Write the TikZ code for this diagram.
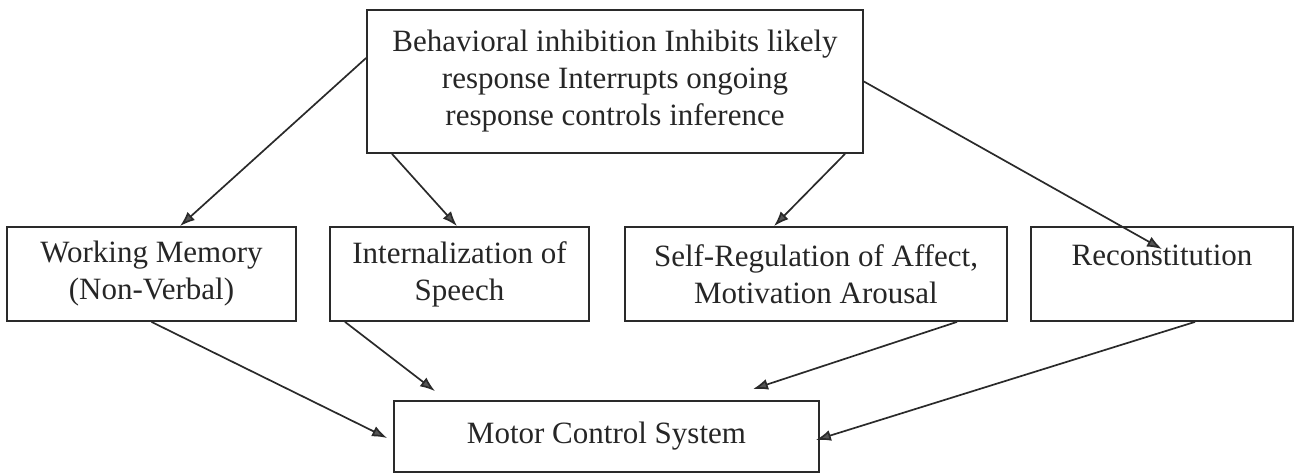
\documentclass[tikz,border=0pt]{standalone}
\usepackage{fontspec}
\setmainfont{Liberation Serif}
\usetikzlibrary{arrows.meta}
\definecolor{ink}{HTML}{2A2A2A}
\definecolor{tipgray}{HTML}{555555}
\begin{document}
\begin{tikzpicture}[x=1pt,y=1pt,
  box/.style={draw=ink, line width=1.8pt, inner sep=0pt, align=center,
    font=\fontsize{31}{37}\selectfont, text=black!85},
  arr/.style={draw=ink, line width=1.7pt,
    -{Latex[length=15pt,width=11pt,fill=tipgray]}}]
\useasboundingbox (0,0) rectangle (1298,-474);
\node[box, minimum width=496pt, minimum height=143pt] (top) at (615,-81.5)
  {Behavioral inhibition Inhibits likely\\response Interrupts ongoing\\response controls inference};
\node[box, minimum width=289pt, minimum height=94pt] (wm) at (151.5,-274)
  {Working Memory\\(Non-Verbal)};
\node[box, minimum width=259pt, minimum height=94pt] (int) at (459.5,-274)
  {Internalization of\\Speech};
\node[box, minimum width=382pt, minimum height=94pt] (sr) at (816,-274)
  {Self-Regulation of Affect,\\Motivation Arousal};
\node[box, minimum width=262pt, minimum height=94pt] (rec) at (1162,-274)
  {Reconstitution\\\mbox{}};
\node[box, minimum width=425pt, minimum height=71pt] (motor) at (606.5,-436.5)
  {Motor Control System};
\draw[arr] ([yshift=23.5pt]top.west) -- ([xshift=28.5pt]wm.north);
\draw[arr] ([xshift=-223pt]top.south) -- ([xshift=-2.5pt]int.north);
\draw[arr] ([xshift=230pt]top.south) -- ([xshift=-42pt]sr.north);
\draw[arr] (top.east) -- ([yshift=-23pt]rec.north);
\draw[arr] (wm.south) -- ([xshift=-6pt,yshift=-1.5pt]motor.west);
\draw[arr] ([xshift=-114.5pt]int.south) -- ([xshift=-171.5pt,yshift=9pt]motor.north);
\draw[arr] ([xshift=141pt]sr.south) -- ([xshift=146.5pt,yshift=11pt]motor.north);
\draw[arr] ([xshift=33pt]rec.south) -- ([xshift=-4pt,yshift=-3.5pt]motor.east);
\end{tikzpicture}
\end{document}
